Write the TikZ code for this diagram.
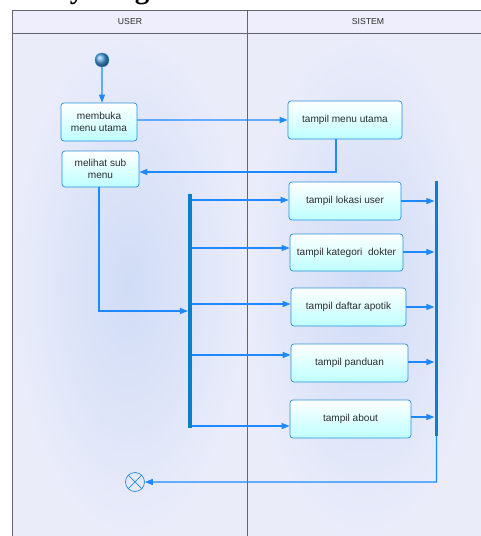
\documentclass[tikz,border=0pt]{standalone}
\usepackage{fontspec}
\setmainfont{Liberation Sans}
\newfontfamily\titlefont{Liberation Serif}
\usetikzlibrary{arrows.meta}
\definecolor{lanebg}{RGB}{234,236,250}
\definecolor{laneglow}{RGB}{208,220,246}
\definecolor{headbg}{RGB}{238,238,252}
\definecolor{frameline}{RGB}{100,100,112}
\definecolor{flowblue}{RGB}{30,136,255}
\definecolor{boxline}{RGB}{40,144,216}
\definecolor{boxcyan}{RGB}{190,255,255}
\definecolor{barblue}{RGB}{10,128,200}
\definecolor{ballblue}{RGB}{80,160,225}
\definecolor{txt}{RGB}{45,45,50}
\begin{document}
\begin{tikzpicture}[scale=0.03]
\tikzstyle{every node}+=[inner sep=0pt, text=txt]
\tikzstyle{act}=[rectangle, rounded corners=0.9mm, draw=boxline, line width=0.6pt, top color=white, bottom color=boxcyan, align=center, font=\fontsize{8.6}{10.3}\selectfont]
\tikzstyle{flow}=[draw=flowblue, line width=0.9pt, -{Triangle[length=2.4mm,width=1.8mm]}]
\tikzstyle{bar}=[rectangle, fill=barblue, minimum width=1.1mm]
\tikzstyle{lane}=[font=\fontsize{7.4}{9}\selectfont]
\useasboundingbox (0,0) rectangle (481,-536);
\node (title) [anchor=base west, font=\titlefont\bfseries\fontsize{24.7}{26}\selectfont, text=black] at (-14,1.5) {Activity Diagram Menu Utama};
\fill [headbg] (12,-10) rectangle (481,-33);
\shade [inner color=laneglow, outer color=lanebg] (12,-33) rectangle (247,-536);
\shade [inner color=laneglow, outer color=lanebg] (247,-33) rectangle (481,-536);
\draw [frameline, line width=0.8pt] (12,-536) -- (12,-10) -- (481,-10);
\draw [frameline, line width=0.8pt] (12,-33) -- (481,-33);
\draw [frameline, line width=0.8pt] (247,-10) -- (247,-536);
\node (userlane) [lane] at (130,-21.5) {USER};
\node (sistemlane) [lane] at (368,-21.5) {SISTEM};
\node (start) [circle, minimum size=4.2mm, draw=boxline, shading=ball, ball color=ballblue] at (102,-60) {};
\node (membuka) [act, minimum width=2.28cm, minimum height=1.14cm] at (99,-122) {membuka\\menu utama};
\node (menuutama) [act, minimum width=3.42cm, minimum height=1.14cm] at (345,-120) {tampil menu utama};
\node (melihat) [act, minimum width=2.31cm, minimum height=1.08cm] at (100.5,-169) {melihat sub\\menu};
\node (fork) [bar, minimum height=7.02cm] at (190,-311) {};
\node (lokasi) [act, minimum width=3.36cm, minimum height=1.14cm] at (345,-201) {tampil lokasi user};
\node (kategori) [act, minimum width=3.39cm, minimum height=1.11cm] at (346.5,-252.5) {tampil kategori~ dokter};
\node (apotik) [act, minimum width=3.45cm, minimum height=1.14cm] at (348.5,-307) {tampil daftar apotik};
\node (panduan) [act, minimum width=3.51cm, minimum height=1.14cm] at (349.5,-363) {tampil panduan};
\node (about) [act, minimum width=3.63cm, minimum height=1.14cm] at (350.5,-419) {tampil about};
\node (join) [bar, minimum height=7.65cm] at (436.5,-308.5) {};
\node (final) [circle, minimum size=5.7mm, draw=boxline, line width=0.6pt] at (135,-482) {};
\draw [boxline, line width=0.6pt] (final.45) -- (final.225) (final.135) -- (final.315);
\draw [flow] (start) -- (start |- membuka.north);
\draw [flow] (membuka.east |- menuutama) -- (menuutama);
\draw [flow] (336,0 |- menuutama.south) -- (336,-172) -- (melihat.east |- 0,-172);
\draw [flow] (99,0 |- melihat.south) -- (99,-311) -- (fork.west |- 0,-311);
\draw [flow] (fork.east |- 0,-200) -- (lokasi.west |- 0,-200);
\draw [flow] (fork.east |- 0,-248) -- (kategori.west |- 0,-248);
\draw [flow] (fork.east |- 0,-304) -- (apotik.west |- 0,-304);
\draw [flow] (fork.east |- 0,-355) -- (panduan.west |- 0,-355);
\draw [flow] (fork.east |- 0,-426) -- (about.west |- 0,-426);
\draw [flow] (lokasi.east |- 0,-201) -- (join.west |- 0,-201);
\draw [flow] (kategori.east |- 0,-252) -- (join.west |- 0,-252);
\draw [flow] (apotik.east |- 0,-307) -- (join.west |- 0,-307);
\draw [flow] (panduan.east |- 0,-362) -- (join.west |- 0,-362);
\draw [flow] (about.east |- 0,-417) -- (join.west |- 0,-417);
\draw [flow] (join.south) -- (join.south |- final) -- (final);
\end{tikzpicture}
\end{document}
